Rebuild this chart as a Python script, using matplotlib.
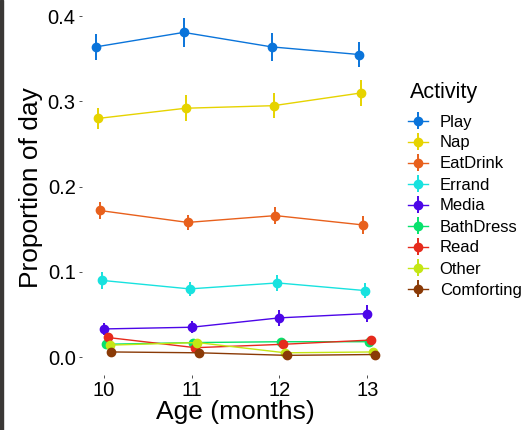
import numpy as np
import matplotlib.pyplot as plt
from matplotlib.patches import Rectangle

plt.rcParams["font.family"] = ["Liberation Sans", "DejaVu Sans"]

ages = [10, 11, 12, 13]
activities = ["Play", "Nap", "EatDrink", "Errand", "Media",
              "BathDress", "Read", "Other", "Comforting"]
colors = ["#0A74DA", "#E6D300", "#E8601C", "#18E2DF", "#4C06E8",
          "#07E26C", "#E62A1C", "#C4E614", "#8A3A06"]

play = [0.364, 0.381, 0.364, 0.355]
nap = [0.280, 0.292, 0.295, 0.310]
eatdrink = [0.172, 0.158, 0.166, 0.155]
errand = [0.090, 0.080, 0.087, 0.078]
media = [0.033, 0.035, 0.046, 0.051]
bathdress = [0.015, 0.017, 0.018, 0.018]
read = [0.023, 0.011, 0.015, 0.020]
other = [0.014, 0.017, 0.005, 0.006]
comforting = [0.006, 0.005, 0.002, 0.003]

play_se = [0.015, 0.017, 0.016, 0.015]
nap_se = [0.012, 0.015, 0.015, 0.015]
eatdrink_se = [0.010, 0.009, 0.010, 0.010]
errand_se = [0.010, 0.008, 0.009, 0.009]
media_se = [0.007, 0.007, 0.009, 0.010]
bathdress_se = [0.003, 0.003, 0.003, 0.003]
read_se = [0.004, 0.004, 0.004, 0.004]
other_se = [0.003, 0.003, 0.003, 0.003]
comforting_se = [0.002, 0.002, 0.002, 0.002]

means = [play, nap, eatdrink, errand, media, bathdress, read, other, comforting]
ses = [play_se, nap_se, eatdrink_se, errand_se, media_se, bathdress_se,
       read_se, other_se, comforting_se]

fig = plt.figure(figsize=(5.25, 4.3), dpi=100)
ax = fig.add_axes([0.156, 0.128, 0.585, 0.870])

# dark strip on the left edge of the screenshot
fig.patches.append(Rectangle((0, 0), 3 / 525, 1, transform=fig.transFigure,
                             color="#3a3836", zorder=10))

n = len(activities)
step = 0.2 / n
handles = []
for i, (name, col, m, s) in enumerate(zip(activities, colors, means, ses)):
    x = np.array(ages) + (i - (n - 1) / 2) * step
    h = ax.errorbar(x, m, yerr=s, color=col, marker="o", markersize=6,
                    linewidth=1.0, elinewidth=1.4, capsize=0, label=name)
    handles.append(h)

ax.set_xlim(9.752, 13.248)
ax.set_ylim(-0.021, 0.418)
ax.set_xticks(ages)
ax.set_yticks([0.0, 0.1, 0.2, 0.3, 0.4])
ax.set_yticklabels(["0.0", "0.1", "0.2", "0.3", "0.4"])
for sp in ax.spines.values():
    sp.set_visible(False)
ax.tick_params(axis="both", length=2.5, width=0.6, color="#333333",
               labelsize=14.5, labelcolor="black", pad=2)

ax.set_xlabel("Age (months)", fontsize=19, labelpad=0)
ax.set_ylabel("Proportion of day", fontsize=19, labelpad=3)

# legend title drawn separately so the gap to the keys matches
fig.text(410 / 525, 1 - 98 / 430, "Activity", fontsize=15.5,
         ha="left", va="baseline")
fig.legend(handles=handles, loc="upper left",
           bbox_to_anchor=(408 / 525, 1 - 114.5 / 430), frameon=False,
           fontsize=12, handlelength=1.2, handletextpad=0.7,
           labelspacing=0.36, borderaxespad=0, borderpad=0)

fig.savefig("out.png", dpi=100)
